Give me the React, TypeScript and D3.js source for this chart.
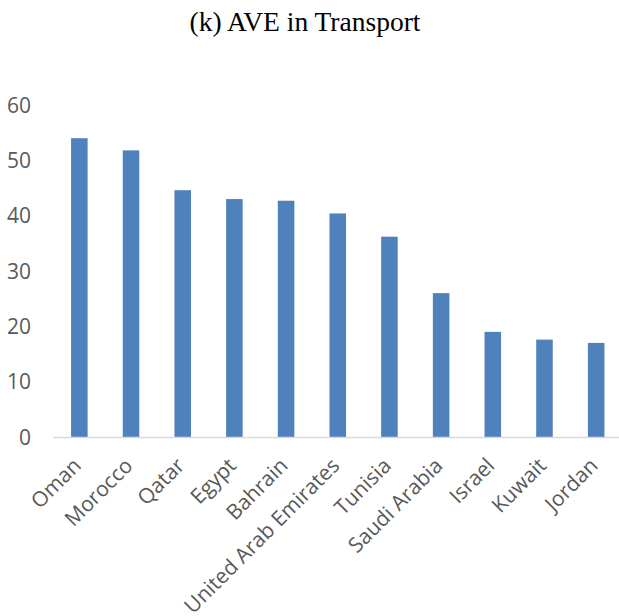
import React from "react";
import * as d3 from "d3";

const countries = [
  "Oman",
  "Morocco",
  "Qatar",
  "Egypt",
  "Bahrain",
  "United Arab Emirates",
  "Tunisia",
  "Saudi Arabia",
  "Israel",
  "Kuwait",
  "Jordan",
];
const aveValues = [54.0, 51.8, 44.6, 43.0, 42.7, 40.4, 36.2, 26.0, 19.0, 17.6, 17.0];
const yTicks = [0, 10, 20, 30, 40, 50, 60];

const W = 619;
const H = 616;
const plotLeft = 53.5;
const plotRight = 622;
const yTop = 105;
const yBase = 437;

export default function App() {
  const x = d3
    .scaleBand<string>()
    .domain(countries)
    .range([plotLeft, plotRight])
    .paddingInner(0.68)
    .paddingOuter(0.34);
  const y = d3.scaleLinear().domain([0, 60]).range([yBase, yTop]);

  const labelFont = "'Open Sans', 'Liberation Sans', sans-serif";

  return (
    <svg
      width={W}
      height={H}
      style={{ position: "absolute", left: 0, top: 0, background: "#fff" }}
    >
      <text
        x={305}
        y={31}
        textAnchor="middle"
        fontFamily="'Liberation Serif', 'Times New Roman', serif"
        fontSize={27.5}
        fill="#000"
      >
        (k) AVE in Transport
      </text>

      {yTicks.map((t) => (
        <text
          key={t}
          x={31}
          y={y(t)}
          dy="0.36em"
          textAnchor="end"
          fontFamily={labelFont}
          fontSize={21}
          fill="#595959"
        >
          {t}
        </text>
      ))}

      {countries.map((c, i) => (
        <rect
          key={c}
          x={x(c)}
          y={y(aveValues[i])}
          width={x.bandwidth()}
          height={yBase - y(aveValues[i])}
          fill="#4f81bd"
        />
      ))}

      <line
        x1={plotLeft}
        x2={W}
        y1={yBase + 0.5}
        y2={yBase + 0.5}
        stroke="#d9d9d9"
        strokeWidth={1.5}
      />

      {countries.map((c) => {
        const cx = (x(c) ?? 0) + x.bandwidth() / 2;
        return (
          <text
            key={c}
            transform={`translate(${cx + 3},${467}) rotate(-45)`}
            textAnchor="end"
            fontFamily={labelFont}
            fontSize={21}
            fill="#595959"
          >
            {c}
          </text>
        );
      })}
    </svg>
  );
}
